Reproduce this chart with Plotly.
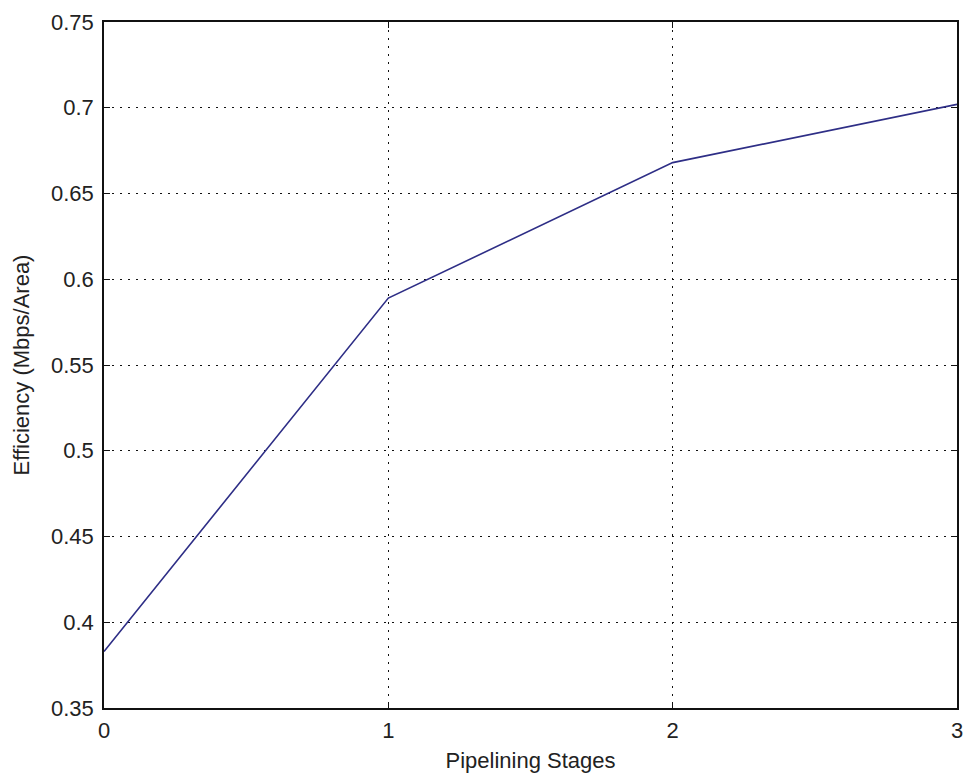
import plotly.graph_objects as go

stages = [0, 1, 2, 3]
efficiency = [0.383, 0.589, 0.668, 0.702]
y_ticks = [0.35, 0.4, 0.45, 0.5, 0.55, 0.6, 0.65, 0.7, 0.75]
y_tick_labels = ["0.35", "0.4", "0.45", "0.5", "0.55", "0.6", "0.65", "0.7", "0.75"]
x_ticks = [0, 1, 2, 3]

font = dict(family="Liberation Sans, Arial, sans-serif", size=22, color="#222222")

fig = go.Figure()
fig.add_trace(go.Scatter(x=stages, y=efficiency, mode="lines",
                         line=dict(color="#2e2e86", width=1.6), showlegend=False))

axis_common = dict(showline=True, linecolor="#111111", linewidth=1.5, mirror="ticks",
                   ticks="inside", ticklen=6, tickcolor="#111111", tickwidth=1,
                   showgrid=True, gridcolor="#111111", gridwidth=1.2, griddash="2px,6px",
                   zeroline=False, tickfont=font, automargin=False)

fig.update_xaxes(range=[0, 3], tickvals=x_ticks, ticktext=[str(v) for v in x_ticks],
                 title=dict(text="Pipelining Stages", font=font, standoff=10),
                 ticklabelstandoff=2, **axis_common)
fig.update_yaxes(range=[0.35, 0.75], tickvals=y_ticks, ticktext=y_tick_labels,
                 title=dict(text="Efficiency (Mbps/Area)", font=font, standoff=15),
                 ticklabelstandoff=4, **axis_common)

fig.update_layout(width=965, height=776, paper_bgcolor="white", plot_bgcolor="white",
                  margin=dict(l=104, r=8, t=22, b=68), font=font)

fig.write_html("out.html", config={"displayModeBar": False},
               post_script="document.body.style.margin='0';")
